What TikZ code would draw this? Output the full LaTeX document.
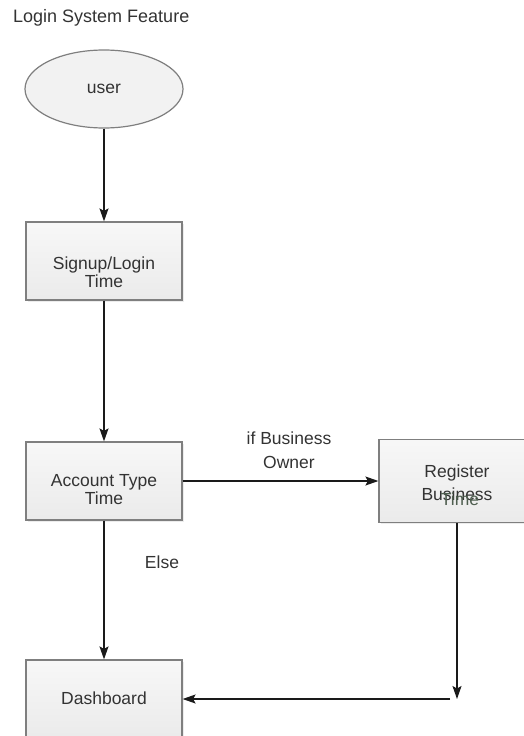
\documentclass[tikz,border=0pt]{standalone}
\usepackage{fontspec}
\setmainfont{Liberation Sans}
\usetikzlibrary{arrows.meta,shapes.geometric,shadows}
\definecolor{boxgray}{HTML}{7F7F7F}
\definecolor{textgray}{HTML}{333333}
\definecolor{linegray}{HTML}{1A1A1A}
\definecolor{timegray}{HTML}{4F5F50}
\begin{document}
\begin{tikzpicture}[
			x=1pt, y=-1pt,
			>={Stealth[length=13pt,width=9pt,inset=2.5pt]},
			every node/.style={font=\fontsize{17.5}{18}\selectfont, text=textgray},
			box/.style={rectangle, draw=boxgray, line width=1.2pt, top color=white!97!black,
				bottom color=white!92!black, minimum width=156pt, minimum height=78pt, inner sep=0pt,
				drop shadow={shadow xshift=1.5pt, shadow yshift=-1.5pt, opacity=0.15}},
			txt/.style={align=center, inner sep=0pt},
			arr/.style={->, line width=1.3pt, draw=linegray}
		]
			\useasboundingbox (0,0) rectangle (523,736);
			
			\node[txt, anchor=west, font=\fontsize{18}{18}\selectfont] (title) at (13,18) {Login System Feature};
			
			\node[ellipse, draw=boxgray, line width=1.2pt, fill=white!95!black, minimum width=158pt,
				minimum height=78pt, inner sep=0pt] (user) at (104,89) {user};
			
			\node[box] (signup) at (104,261) {};
			\node[txt] (signup-t) at (104,272) {Signup/Login\\Time};
			
			\node[box] (account) at (104,481) {};
			\node[txt] (account-t) at (104,490) {Account Type\\Time};
			
			\node[box, minimum height=83pt] (register) at (457,481) {};
			\node[txt, font=\fontsize{17.5}{23}\selectfont] (register-t) at (457,483) {Register\\Business};
			\node[txt, text=timegray] (register-x) at (460,499) {Time};
			
			\node[box] (dash) at (104,699) {};
			\node[txt] (dash-t) at (104,698) {Dashboard};
			
			\coordinate (regend) at (457,699);
			\coordinate (backstart) at (450,699);
			
			\draw[arr] (user) -- (signup);
			\draw[arr] (signup) -- (account);
			\draw[arr] (account) -- (register);
			\draw[arr] (account) -- (dash);
			\draw[arr] (register) -- (regend);
			\draw[arr] (backstart) -- (dash);
			
			\node[txt, font=\fontsize{17.5}{24}\selectfont] (owner) at (289,450) {if Business\\Owner};
			\node[txt] (else) at (162,562) {Else};
		\end{tikzpicture}
\end{document}
